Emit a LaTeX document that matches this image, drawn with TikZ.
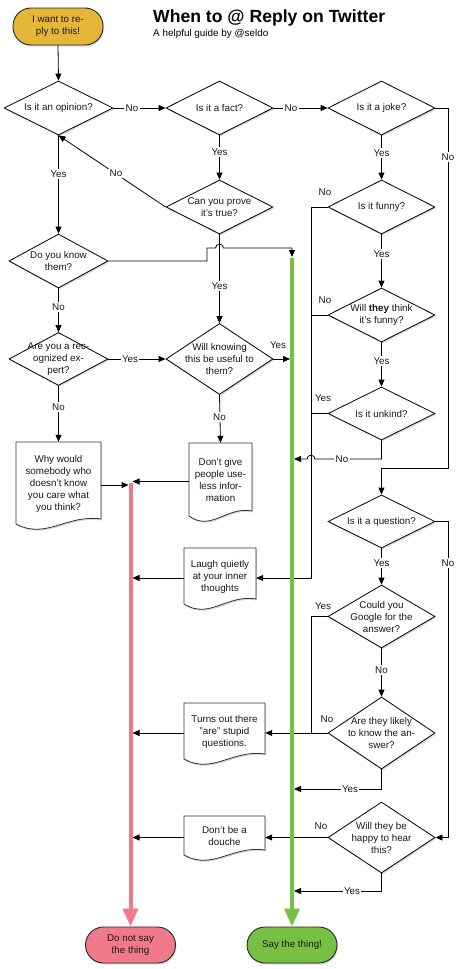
\documentclass[tikz,border=0pt]{standalone}
\usepackage{fontspec}
\setmainfont{Liberation Sans}
\usetikzlibrary{arrows.meta,shapes.geometric,shadows}
\definecolor{startY}{RGB}{229,183,56}
\definecolor{pinkC}{RGB}{240,122,138}
\definecolor{greenC}{RGB}{120,192,68}
\tikzset{
 base/.style={font=\fontsize{9.8}{12}\selectfont, align=center, text=black!90},
 shad/.style={drop shadow={shadow xshift=1pt,shadow yshift=-1.5pt,opacity=0.3}},
 dia/.style={diamond, draw=black, line width=0.8pt, fill=white, inner sep=0pt, shad},
 term/.style={rounded corners=18pt, draw=black!85, line width=0.9pt, minimum width=90pt, minimum height=36pt, inner sep=0pt, base, shad},
 conn/.style={line width=0.8pt, draw=black},
 arr/.style={conn, -{Triangle[length=7pt,width=6pt]}},
 lab/.style={base, fill=white, inner sep=1.5pt},
 freelab/.style={base, inner sep=1pt},
 doc/.style={draw=black!80, line width=0.8pt, fill=white, shad},
 bigpink/.style={line width=4pt, draw=pinkC, -{Triangle[length=18pt,width=15pt]}},
 biggreen/.style={line width=4pt, draw=greenC, -{Triangle[length=18pt,width=15pt]}},
}
% name, x,y, w, h, text
\newcommand\dq[5]{\node[dia, minimum width=#3pt, minimum height=#4pt, label={[base]center:{#5}}] (#1) at (#2) {};}
% name, l, t, r, b, text
\newcommand\docb[6]{%
 \draw[doc] (#2,#3) -- (#4,#3) -- (#4,#5-9) .. controls ({#4-0.4*(#4-#2)},#5-14) and ({#2+0.35*(#4-#2)},#5+12) .. (#2,#5-4) -- cycle;
 \node[inner sep=0pt, minimum width={(#4-#2)*1pt}, minimum height={(#5-#3)*1pt}, label={[base,yshift=1.5pt]center:{#6}}] (#1) at ({(#2+#4)/2},{(#3+#5)/2}) {};}
\begin{document}
\begin{tikzpicture}[x=1pt,y=-1pt]
\fill[white] (0,0) rectangle (461,969);
\useasboundingbox (0,0) rectangle (461,969);

% title
\node[anchor=base west, inner sep=0pt, font=\bfseries\fontsize{17.6}{20}\selectfont] (title) at (153,23) {When to @ Reply on Twitter};
\node[anchor=base west, inner sep=0pt, font=\fontsize{9.9}{12}\selectfont] (subtitle) at (153,36) {A helpful guide by @seldo};

% rails
\coordinate (pinkL) at (128.5,0);
\coordinate (pinkR) at (132.5,0);
\coordinate (greenL) at (290,0);
\coordinate (greenR) at (294,0);
\coordinate (railX) at (311,0);

% terminals
\node[term, fill=startY, minimum height=37pt] (start) at (58,26.5) {I want to re-\\ply to this!};
\node[term, fill=pinkC] (noT) at (130.5,945) {Do not say\\the thing};
\node[term, fill=greenC] (sayT) at (292,945) {Say the thing!};

% diamonds
\dq{op}{58.5,108}{109}{54}{Is it an opinion?}
\dq{fact}{219.5,108}{107}{54}{Is it a fact?}
\dq{joke}{381.5,108}{107}{54}{Is it a joke?}
\dq{prove}{219.5,207}{107}{54}{Can you prove\\it’s true?}
\dq{know}{58.5,261}{99}{54}{Do you know\\them?}
\dq{expert}{58.5,359}{99}{53}{Are you a rec-\\ognized ex-\\pert?}
\dq{useful}{219.5,359}{107}{71}{Will knowing\\this be useful to\\them?}
\dq{funny}{381.5,207}{107}{54}{Is it funny?}
\dq{they}{381.5,315}{107}{54}{Will \textbf{they} think\\it’s funny?}
\dq{unkind}{381.5,413.5}{107}{53}{Is it unkind?}
\dq{question}{381.5,521.5}{107}{53}{Is it a question?}
\dq{google}{381.5,616.5}{107}{63}{Could you\\Google for the\\answer?}
\dq{likely}{381.5,733}{107}{72}{Are they likely\\to know the an-\\swer?}
\dq{happy}{381.5,837.5}{107}{71}{Will they be\\happy to hear\\this?}

% documents
\docb{why}{16}{442}{101}{528}{Why would\\somebody who\\doesn’t know\\you care what\\you think?}
\docb{useless}{189}{443}{252}{520}{Don’t give\\people use-\\less infor-\\mation}
\docb{laugh}{184}{548}{256}{608}{Laugh quietly\\at your inner\\thoughts}
\docb{turns}{184}{703}{265}{763}{Turns out there\\"are" stupid\\questions.}
\docb{douche}{184}{816}{265}{859}{Don’t be a\\douche}

% left / middle connectors
\draw[arr] (start.south) -- (op.north);
\draw[arr] (op.east) -- (fact.west);
\node[lab] at (132,108) {No};
\draw[arr] (fact.east) -- (joke.west);
\node[lab] at (291,108) {No};
\draw[arr] (op.south) -- (know.north);
\node[lab] at (58.5,174) {Yes};
\draw[arr] (prove.west) -- (op.south);
\node[lab] at (116,173.5) {No};
\draw[arr] (fact.south) -- (prove.north);
\node[lab] at (219.5,152) {Yes};
\draw[arr] (prove.south) -- (useful.north);
\node[lab] at (219.5,286) {Yes};
\draw[arr] (know.east) -- (207,261) -- (207,248) -- (215.5,248) .. controls (215.5,243) and (223.5,243) .. (223.5,248) -- (292,248) -- (292,257);
\draw[arr] (know.south) -- (expert.north);
\node[lab] at (58.5,307) {No};
\draw[arr] (expert.east) -- (useful.west);
\node[lab] at (130,359) {Yes};
\draw[arr] (expert.south) -- (why.north);
\node[lab] at (58.5,407) {No};
\draw[arr] (useful.east) -- (useful.east -| greenL);
\node[freelab] at (278,345) {Yes};
\draw[arr] (useful.south) -- (useless.north);
\node[lab] at (219.5,417) {No};
\draw[arr] (why.east) -- (why.east -| pinkL);
\draw[arr] (useless.west) -- (useless.west -| pinkR);
\draw[arr] (laugh.west) -- (laugh.west -| pinkR);
\draw[arr] (turns.west) -- (turns.west -| pinkR);
\draw[arr] (douche.west) -- (douche.west -| pinkR);

% right column connectors
\draw[arr] (joke.east) -- (448,108) -- (448,468) -- (381.5,468) -- (question.north);
\node[lab] at (448,157) {No};
\draw[arr] (joke.south) -- (funny.north);
\node[lab] at (381.5,153) {Yes};
\draw[arr] (funny.west) -- (funny.west -| railX) -- (laugh.east -| railX) -- (laugh.east);
\node[freelab] at (325,192) {No};
\draw[arr] (funny.south) -- (they.north);
\node[lab] at (381.5,254) {Yes};
\draw[conn] (they.west) -- (they.west -| railX);
\node[freelab] at (325,300) {No};
\draw[arr] (they.south) -- (unkind.north);
\node[lab] at (381.5,361) {Yes};
\draw[conn] (unkind.west) -- (unkind.west -| railX);
\node[freelab] at (323,398) {Yes};
\draw[arr] (unkind.south) -- (381.5,459) -- (315,459) .. controls (315,454) and (307,454) .. (307,459) -- (294,459);
\node[lab] at (342,459) {No};
\draw[arr] (question.south) -- (google.north);
\node[lab] at (381.5,563) {Yes};
\draw[arr] (question.east) -- (448,521.5) -- (448,837.5) -- (happy.east);
\node[lab] at (448,563) {No};
\draw[conn] (google.west) -- (google.west -| railX) -- (likely.west -| railX);
\node[freelab] at (323,606) {Yes};
\draw[arr] (google.south) -- (likely.north);
\node[lab] at (381.5,670) {No};
\draw[arr] (likely.west) -- (turns.east);
\node[freelab] at (327,719) {No};
\draw[arr] (likely.south) -- (381.5,789) -- (294,789);
\node[lab] at (350,789) {Yes};
\draw[arr] (happy.west) -- (douche.east);
\node[freelab] at (321,826) {No};
\draw[arr] (happy.south) -- (381.5,891) -- (294,891);
\node[lab] at (352,891) {Yes};

% thick rails
\draw[bigpink] (130.5,483) -- (noT.north);
\draw[biggreen] (292,258) -- (sayT.north);
\end{tikzpicture}
\end{document}
